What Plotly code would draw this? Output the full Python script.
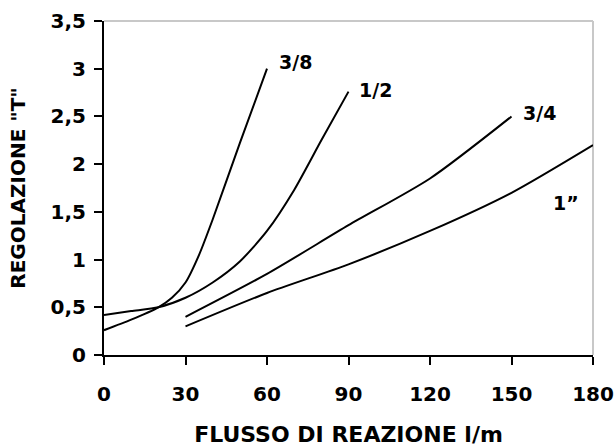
import plotly.graph_objects as go

# flow (l/m) vs "T" setting, one curve per pipe size
flow_38 = [0, 10, 20, 25, 30, 35, 40, 50, 60]
reg_38 = [0.26, 0.37, 0.5, 0.6, 0.76, 1.05, 1.42, 2.22, 3.0]

flow_12 = [0, 10, 20, 30, 40, 50, 60, 70, 80, 90]
reg_12 = [0.42, 0.46, 0.5, 0.6, 0.76, 0.98, 1.3, 1.73, 2.25, 2.76]

flow_34 = [30, 60, 90, 120, 150]
reg_34 = [0.4, 0.85, 1.36, 1.85, 2.5]

flow_1 = [30, 60, 90, 120, 150, 180]
reg_1 = [0.3, 0.65, 0.95, 1.3, 1.7, 2.2]

labels = ['3/8', '1/2', '3/4', '1”']
label_x = [63.5, 93, 153.5, 164.5]
label_y = [3.07, 2.78, 2.54, 1.59]

x_ticks = [0, 30, 60, 90, 120, 150, 180]
y_ticks = [0, 0.5, 1, 1.5, 2, 2.5, 3, 3.5]

FONT = 'DejaVu Sans'

fig = go.Figure()
for xs, ys in [(flow_38, reg_38), (flow_12, reg_12), (flow_34, reg_34), (flow_1, reg_1)]:
    fig.add_trace(go.Scatter(
        x=xs, y=ys, mode='lines',
        line=dict(color='black', width=2, shape='spline', smoothing=0.7),
        showlegend=False, hoverinfo='skip'
    ))

for txt, lx, ly in zip(labels, label_x, label_y):
    fig.add_annotation(
        x=lx, y=ly, text='<b>%s</b>' % txt, showarrow=False,
        xanchor='left', yanchor='middle',
        font=dict(family=FONT, size=19, color='black')
    )

# light grey frame on top and right
fig.add_shape(type='line', xref='paper', yref='paper', x0=0, x1=1, y0=1, y1=1,
              line=dict(color='#c8c8c8', width=2), layer='below')
fig.add_shape(type='line', xref='paper', yref='paper', x0=1, x1=1, y0=0, y1=1,
              line=dict(color='#c8c8c8', width=2), layer='below')

axis_common = dict(
    showgrid=False, zeroline=False, automargin=False,
    showline=True, linecolor='black', linewidth=2,
    ticks='outside', ticklen=8, tickwidth=2, tickcolor='black',
    tickfont=dict(family=FONT, size=20, color='black', weight='bold'),
)

fig.update_layout(
    width=614, height=448,
    margin=dict(l=104, r=21, t=21, b=93),
    paper_bgcolor='white', plot_bgcolor='white',
    separators=', ',
    font=dict(family=FONT, color='black'),
    xaxis=dict(
        range=[0, 180], tickvals=x_ticks, ticklabelstandoff=12,
        title=dict(text='<b>FLUSSO DI REAZIONE l/m</b>',
                   font=dict(family=FONT, size=22, color='black'), standoff=22),
        **axis_common
    ),
    yaxis=dict(
        range=[0, 3.5], tickvals=y_ticks, ticklabelstandoff=4,
        title=dict(text='<b>REGOLAZIONE "T"</b>',
                   font=dict(family=FONT, size=20, color='black'), standoff=20),
        **axis_common
    ),
)

# drop the default page margin so the figure sits at the window's corner
fig.write_html("out.html", config={'displayModeBar': False},
               post_script="document.body.style.margin='0';")
